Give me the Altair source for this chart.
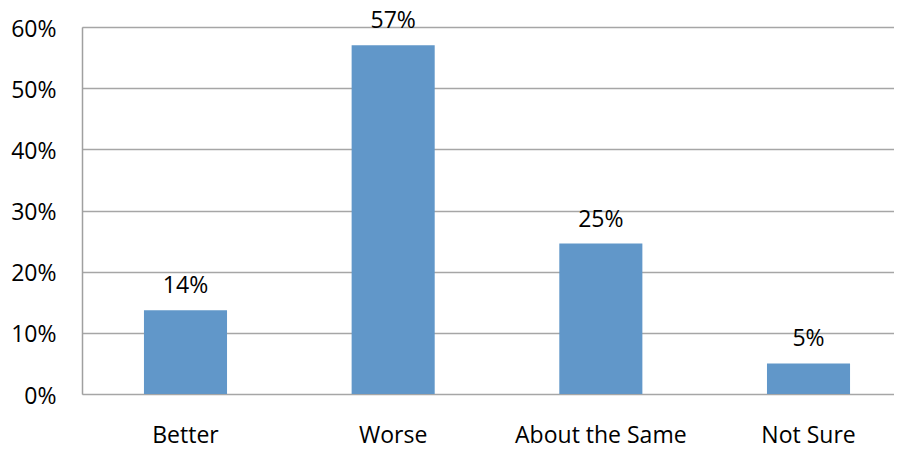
import altair as alt
import pandas as pd

categories = ["Better", "Worse", "About the Same", "Not Sure"]
values = [13.7, 57.0, 24.6, 5.0]
labels = ["14%", "57%", "25%", "5%"]

df = pd.DataFrame({"cat": categories, "val": values, "lab": labels})

FONT = "Open Sans"
FS = 23

x = alt.X(
    "cat:N",
    sort=categories,
    title=None,
    scale=alt.Scale(paddingInner=0.6, paddingOuter=0.255, align=0.585),
    axis=alt.Axis(
        labelAngle=0,
        domain=False,
        ticks=False,
        tickSize=0,
        grid=False,
        labelFont=FONT,
        labelFontSize=FS,
        labelColor="#000000",
        labelBaseline="alphabetic",
        labelPadding=48,
    ),
)

y = alt.Y(
    "val:Q",
    title=None,
    scale=alt.Scale(domain=[0, 60], nice=False),
    axis=alt.Axis(
        values=[0, 10, 20, 30, 40, 50, 60],
        labelExpr="datum.value + '%'",
        ticks=False,
        tickSize=0,
        domain=True,
        domainColor="#A0A0A0",
        domainWidth=1.5,
        grid=True,
        gridColor="#A6A6A6",
        gridWidth=1.5,
        labelFont=FONT,
        labelFontSize=FS,
        labelColor="#000000",
        labelPadding=26,
        labelOffset=2,
    ),
)

bars = alt.Chart(df).mark_bar(color="#6197C9").encode(x=x, y=y)

text = alt.Chart(df).mark_text(
    font=FONT, fontSize=FS, color="#000000", baseline="alphabetic", dy=-17
).encode(x=alt.X("cat:N", sort=categories), y="val:Q", text="lab:N")

chart = (
    alt.layer(bars, text)
    .properties(
        width=812,
        height=367,
        autosize=alt.AutoSizeParams(type="none"),
        padding={"left": 74, "top": 19, "right": 0, "bottom": 62},
    )
    .configure_view(stroke=None)
    .configure(background="white")
)

chart.save("out.html", embed_options={"renderer": "svg", "actions": False})
